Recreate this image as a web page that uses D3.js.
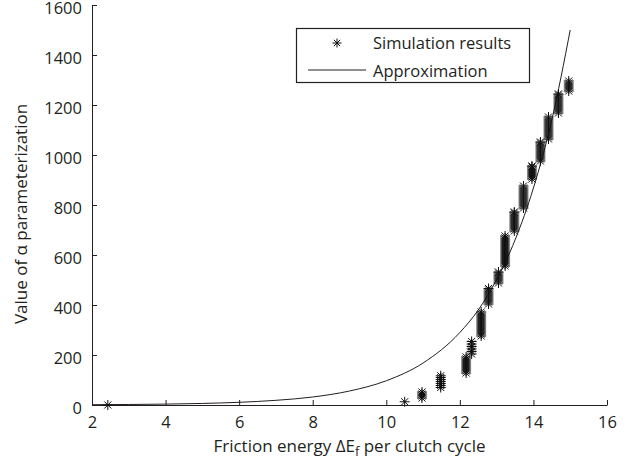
<!DOCTYPE html>
<meta charset="utf-8">
<head>
  <meta charset="UTF-8" />
  <title>Alpha parameterization</title>
  <script src="https://d3js.org/d3.v7.min.js"></script>
</head>
<style>
  body { margin: 0; background: #fff; }
  text { font-family: "Open Sans", sans-serif; fill: #231f20; }
</style>
<div id="chart"></div>
<script>

  // simulation clusters: one x per cluster, y values of the stacked stars
  var clusterX = [2.43, 10.5, 10.97, 11.48, 12.17, 12.32, 12.58, 12.78, 13.05, 13.23, 13.48, 13.73, 13.96, 14.19, 14.41, 14.68, 14.96]
  var clusterY = [
    [0],
    [13],
    [28, 36, 44, 52],
    [70, 78, 86, 94, 102, 110, 117],
    [128, 136, 144, 152, 160, 168, 176, 184, 192],
    [204, 214, 224, 234, 244, 254],
    [276, 284, 292, 300, 308, 316, 324, 332, 340, 348, 356, 364, 372],
    [404, 412, 420, 428, 436, 444, 452, 460, 466],
    [488, 496, 504, 512, 520, 528, 532],
    [556, 564, 572, 580, 588, 596, 604, 612, 620, 628, 636, 644, 652, 660, 668, 676],
    [696, 704, 712, 720, 728, 736, 744, 752, 760, 768, 772],
    [788, 796, 804, 812, 820, 828, 836, 844, 852, 860, 868, 876],
    [904, 912, 920, 928, 936, 944, 952, 956],
    [976, 984, 992, 1000, 1008, 1016, 1024, 1032, 1040, 1048, 1052],
    [1064, 1072, 1080, 1088, 1096, 1104, 1112, 1120, 1128, 1136, 1144, 1152],
    [1168, 1176, 1184, 1192, 1200, 1208, 1216, 1224, 1232, 1240, 1244],
    [1256, 1264, 1272, 1280, 1288, 1296]
  ]

  // approximation curve
  var approxX = [2, 3, 4, 5, 6, 7, 8, 9, 10, 11, 12, 12.5, 13, 13.5, 14, 14.5, 15]
  var approxY = [1.2, 2.1, 3.6, 6.2, 10.8, 18.7, 32, 56, 97, 168, 290, 380, 502, 660, 868, 1140, 1500]

  var xTicks = [2, 4, 6, 8, 10, 12, 14, 16]
  var yTicks = [0, 200, 400, 600, 800, 1000, 1200, 1400, 1600]

  var width = 634, height = 465
  var margin = {top: 5, right: 27, bottom: 60, left: 92}

  var svg = d3.select("#chart")
    .append("svg")
      .attr("width", width)
      .attr("height", height)

  var x = d3.scaleLinear().domain([2, 16]).range([margin.left, width - margin.right])
  var y = d3.scaleLinear().domain([0, 1600]).range([height - margin.bottom, margin.top])

  var simData = []
  clusterX.forEach(function (cx, i) {
    clusterY[i].forEach(function (v) { simData.push([cx, v]) })
  })

  // axes, ticks pointing inward
  svg.append("g")
    .attr("transform", "translate(0," + y(0) + ")")
    .call(d3.axisBottom(x).tickValues(xTicks).tickFormat(d3.format("d"))
      .tickSizeInner(-5).tickSizeOuter(0).tickPadding(11))
  svg.append("g")
    .attr("class", "yaxis")
    .attr("transform", "translate(" + x(2) + ",0)")
    .call(d3.axisLeft(y).tickValues(yTicks).tickFormat(d3.format("d"))
      .tickSizeInner(-5).tickSizeOuter(0).tickPadding(10))

  svg.selectAll(".domain, .tick line").attr("stroke", "#231f20").attr("stroke-width", 1)
  svg.selectAll(".tick text").style("font-size", "16.5px").attr("fill", "#231f20")
    .style("font-family", "'Open Sans', sans-serif")
  svg.selectAll(".yaxis .tick text").attr("dy", "0.5em")

  // approximation line
  svg.append("path")
    .datum(approxX.map((d, i) => [d, approxY[i]]))
    .attr("fill", "none")
    .attr("stroke", "#231f20")
    .attr("stroke-width", 1)
    .attr("d", d3.line().x(d => x(d[0])).y(d => y(d[1])).curve(d3.curveMonotoneX))

  // star marker like matlab '*'
  function star(r) {
    var d = r * Math.SQRT1_2
    return "M" + (-r) + ",0L" + r + ",0M0," + (-r) + "L0," + r +
      "M" + (-d) + "," + (-d) + "L" + d + "," + d +
      "M" + (-d) + "," + d + "L" + d + "," + (-d)
  }

  svg.append("g")
    .selectAll("path")
    .data(simData)
    .join("path")
      .attr("transform", d => "translate(" + x(d[0]) + "," + y(d[1]) + ")")
      .attr("d", star(5))
      .attr("stroke", "#111")
      .attr("stroke-width", 1)
      .attr("fill", "none")

  // legend
  var lg = svg.append("g")
  lg.append("rect")
    .attr("x", 296.5).attr("y", 28.5).attr("width", 233).attr("height", 54)
    .attr("fill", "#fff").attr("stroke", "#231f20").attr("stroke-width", 1.2)
  lg.append("path")
    .attr("transform", "translate(337,43)")
    .attr("d", star(4.5))
    .attr("stroke", "#111").attr("fill", "none")
  lg.append("text").attr("x", 373).attr("y", 48.5).style("font-size", "16.5px").text("Simulation results")
  lg.append("line")
    .attr("x1", 308).attr("x2", 366).attr("y1", 70).attr("y2", 70)
    .attr("stroke", "#231f20").attr("stroke-width", 1)
  lg.append("text").attr("x", 373).attr("y", 76.5).style("font-size", "16.5px").text("Approximation")

  // axis titles
  var xl = svg.append("text")
    .attr("x", (x(2) + x(16)) / 2)
    .attr("y", 451.5)
    .attr("text-anchor", "middle")
    .style("font-size", "17px")
  xl.append("tspan").text("Friction energy \u0394E")
  xl.append("tspan").attr("baseline-shift", "-30%").style("font-size", "13px").text("f")
  xl.append("tspan").text(" per clutch cycle")

  svg.append("text")
    .attr("transform", "translate(27,214) rotate(-90)")
    .attr("text-anchor", "middle")
    .style("font-size", "17px")
    .text("Value of \u03b1 parameterization")

</script>
